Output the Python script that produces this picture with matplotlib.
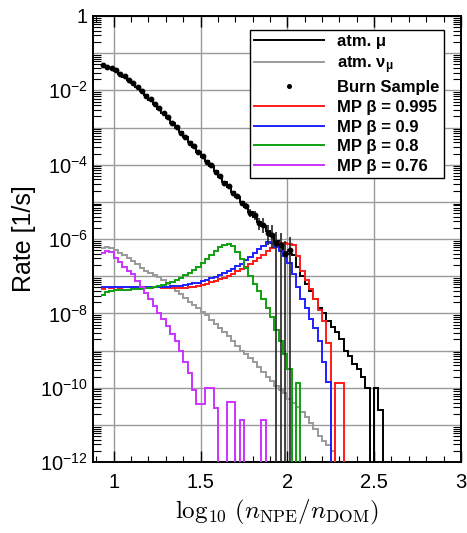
import numpy as np
import matplotlib
matplotlib.use('Agg')
import matplotlib.pyplot as plt
from matplotlib.ticker import FixedLocator, MultipleLocator, FuncFormatter, NullFormatter
from matplotlib.lines import Line2D

plt.rcParams['font.family'] = ['Liberation Sans', 'DejaVu Sans']
plt.rcParams['mathtext.fontset'] = 'custom'
plt.rcParams['mathtext.rm'] = 'Liberation Sans'
plt.rcParams['mathtext.it'] = 'Liberation Sans:italic'
plt.rcParams['mathtext.bf'] = 'Liberation Sans:bold'

# ---- data: log10(rate) per bin, None = empty bin ----
Z = None
bin_start = 0.925
bin_width = 0.025

atm_mu = [-1.33, -1.36, -1.40, -1.47, -1.55, -1.63, -1.72, -1.81, -1.91, -2.02,
          -2.13, -2.25, -2.37, -2.49, -2.61, -2.74, -2.87, -3.00, -3.13, -3.26,
          -3.39, -3.52, -3.65, -3.78, -3.91, -4.04, -4.18, -4.32, -4.46, -4.60,
          -4.74, -4.88, -5.01, -5.14, -5.27, -5.40, -5.53, -5.66, -5.79, -5.92,
          -6.05, -6.18, -6.35, -6.40, -6.43, -6.75, -7.00, -7.20, -7.40, -7.60,
          -7.85, -8.00, -8.20, -8.37, -8.50, -8.70, -9.00, -9.15, -9.35, -9.50,
          -9.70, -10.0, Z, -10.0, -10.6, Z]

atm_numu = [-6.25, -6.22, -6.25, -6.30, -6.38, -6.44, -6.50, -6.58, -6.68, -6.78,
            -6.85, -6.92, -6.98, -7.02, -7.10, -7.20, -7.30, -7.40, -7.48, -7.58,
            -7.68, -7.78, -7.86, -7.95, -8.05, -8.18, -8.28, -8.40, -8.50, -8.62,
            -8.75, -8.88, -9.00, -9.10, -9.20, -9.32, -9.45, -9.58, -9.70, -9.82,
            -9.95, -10.06, -10.15, -10.30, -10.40, -10.52, -10.65, -10.80, -10.95, -11.12,
            -11.30, -11.42, -11.55, -11.70, Z]

burn = [-1.32, -1.37, -1.40, -1.46, -1.56, -1.62, -1.73, -1.80, -1.92, -2.01,
        -2.14, -2.24, -2.38, -2.48, -2.62, -2.73, -2.88, -2.98, -3.14, -3.25,
        -3.41, -3.50, -3.66, -3.77, -3.93, -4.02, -4.20, -4.30, -4.48, -4.57,
        -4.76, -4.85, -5.04, -5.10, -5.30, -5.36, -5.58, -5.62, -5.85, -5.88,
        -6.10, -6.15, -6.40, -6.30]
burn_err_up = [0.02] * 28 + [0.03, 0.04, 0.05, 0.06, 0.07, 0.08, 0.10, 0.12,
                             0.15, 0.18, 0.22, 0.25, 0.30, 0.32, 0.35, 0.35]
burn_err_lo = [0.02] * 28 + [0.03, 0.04, 0.05, 0.06, 0.07, 0.08, 0.10, 0.12,
                             0.18, 0.22, 0.30, 0.35, 1.0, 1.0, 1.0, 1.0]

mp_0995 = [-7.35, -7.30, -7.32, -7.30, -7.32, -7.30, -7.30, -7.30, -7.32, -7.30,
           -7.30, -7.31, -7.30, -7.30, -7.31, -7.32, -7.33, -7.33, -7.32, -7.31,
           -7.30, -7.28, -7.26, -7.23, -7.20, -7.16, -7.12, -7.08, -7.04, -6.99,
           -6.93, -6.87, -6.81, -6.74, -6.67, -6.58, -6.50, -6.42, -6.33, -6.24,
           -6.15, -6.10, -6.10, -6.12, -6.15, -6.45, -6.85, -7.10, -7.35, -7.60,
           -7.90, -8.20, -8.80, Z, -9.87, -9.87, Z]

mp_09 = [-7.30, -7.28, -7.29, -7.28, -7.29, -7.28, -7.28, -7.29, -7.28, -7.28,
         -7.29, -7.29, -7.30, -7.30, -7.29, -7.28, -7.27, -7.26, -7.25, -7.23,
         -7.21, -7.19, -7.17, -7.14, -7.10, -7.06, -7.02, -6.97, -6.92, -6.86,
         -6.80, -6.73, -6.66, -6.57, -6.48, -6.38, -6.28, -6.18, -6.09, -6.10,
         -6.22, -6.33, -6.45, -6.65, -6.95, -7.30, -7.60, -7.85, -8.15, -8.40,
         -8.75, -9.30, -9.85, Z]

mp_08 = [-7.50, -7.42, -7.40, -7.38, -7.37, -7.37, -7.36, -7.35, -7.35, -7.34,
         -7.33, -7.31, -7.29, -7.26, -7.23, -7.19, -7.15, -7.10, -7.04, -6.98,
         -6.91, -6.83, -6.74, -6.64, -6.53, -6.42, -6.31, -6.22, -6.15, -6.13,
         -6.20, -6.35, -6.55, -6.78, -7.00, -7.20, -7.40, -7.60, -7.85, -8.10,
         -8.45, -8.75, -9.10, -9.50, Z, -9.87, Z]

mp_076 = [-6.37, -6.33, -6.36, -6.50, -6.62, -6.75, -6.85, -6.95, -7.12, -7.30,
          -7.45, -7.62, -7.80, -7.98, -8.15, -8.35, -8.55, -8.75, -9.00, -9.30,
          -9.60, -10.05, -10.45, -10.45, -10.0, -10.0, -10.55, Z, Z, -10.38,
          -10.38, Z, -10.87, Z, Z, Z, Z, -10.87, Z]

legend_labels = ['atm. \u03bc', 'atm. $\\mathbf{\\nu_{\\mu}}$', 'Burn Sample',
                 'MP \u03b2 = 0.995', 'MP \u03b2 = 0.9', 'MP \u03b2 = 0.8', 'MP \u03b2 = 0.76']
colors = ['black', '#9a9a9a', 'black', '#ff1a1a', '#2020ff', '#10a010', '#cc33ff']


def rates(lst):
    return np.array([1e-30 if v is None else 10.0 ** v for v in lst])


fig = plt.figure(figsize=(4.67, 5.33), dpi=100)
ax = fig.add_axes([0.199, 0.133, 0.788, 0.837])
ax.set_yscale('log')

series = [atm_mu, atm_numu, mp_0995, mp_09, mp_08, mp_076]
scol = [colors[0], colors[1], colors[3], colors[4], colors[5], colors[6]]
for vals, c in zip(series, scol):
    r = rates(vals)
    edges = bin_start + bin_width * np.arange(len(r) + 1)
    ax.stairs(r, edges, baseline=None, color=c, lw=1.4, zorder=3)

# burn sample points
b = rates(burn)
cent = bin_start + bin_width * (np.arange(len(b)) + 0.5)
up = b * (10 ** np.array(burn_err_up) - 1)
lo_frac = np.array(burn_err_lo)
lo = np.where(lo_frac >= 1.0, b * (1 - 1e-12), b * (1 - 10 ** (-lo_frac)))
ax.errorbar(cent, b, yerr=[lo, up], xerr=bin_width / 2, fmt='o', ms=3.2, color='black',
            ecolor='#222222', elinewidth=1.2, capsize=0, zorder=4)

ax.set_xlim(0.88, 3.0)
ax.set_ylim(1e-12, 1)

ax.xaxis.set_major_locator(FixedLocator([1, 1.5, 2, 2.5, 3]))
ax.xaxis.set_minor_locator(MultipleLocator(0.1))
ax.xaxis.set_major_formatter(FuncFormatter(lambda v, p: ('%g' % v)))

ydec = list(range(0, -13, -1))
ax.yaxis.set_major_locator(FixedLocator([10.0 ** k for k in ydec]))
minors = [m * 10.0 ** k for k in range(-12, 0) for m in range(2, 10)]
ax.yaxis.set_minor_locator(FixedLocator(minors))
ax.yaxis.set_minor_formatter(NullFormatter())


def yfmt(v, p):
    k = int(round(np.log10(v)))
    if k == 0:
        return '1'
    if k % 2 != 0:
        return ''
    return '10$^{\\mathregular{-%d}}$' % (-k)


ax.yaxis.set_major_formatter(FuncFormatter(yfmt))

ax.tick_params(which='both', direction='in', top=True, right=True, colors='black',
               labelsize=14.5)
ax.tick_params(which='major', length=8, width=1)
ax.tick_params(which='minor', length=4, width=0.8)
ax.tick_params(axis='y', which='major', length=0)
ax.tick_params(axis='y', which='minor', length=6)
ax.tick_params(axis='x', which='major', pad=8)

ax.grid(True, which='major', color='#9a9a9a', lw=1.0, zorder=1)
ax.set_axisbelow(True)
for s in ax.spines.values():
    s.set_linewidth(1.4)

ax.set_ylabel('Rate [1/s]', fontsize=18, labelpad=3)
ax.set_xlabel('$\\log_{10}\\,(n_{\\mathrm{NPE}}/n_{\\mathrm{DOM}})$', fontsize=18,
              math_fontfamily='cm', labelpad=4)

handles = [Line2D([], [], color=colors[0], lw=1.4),
           Line2D([], [], color=colors[1], lw=1.4),
           Line2D([], [], color='black', marker='o', ms=2.6, lw=0),
           Line2D([], [], color=colors[3], lw=1.4),
           Line2D([], [], color=colors[4], lw=1.4),
           Line2D([], [], color=colors[5], lw=1.4),
           Line2D([], [], color=colors[6], lw=1.4)]
leg = ax.legend(handles, legend_labels, loc='upper right', bbox_to_anchor=(0.976, 0.987),
                frameon=True, fancybox=False, edgecolor='black', framealpha=1,
                prop={'weight': 'bold', 'size': 12}, handlelength=4.2,
                labelspacing=0.28, borderpad=0.25, handletextpad=0.8)
leg.get_frame().set_linewidth(1.0)
leg.set_zorder(10)

fig.savefig('out.png', dpi=100)
